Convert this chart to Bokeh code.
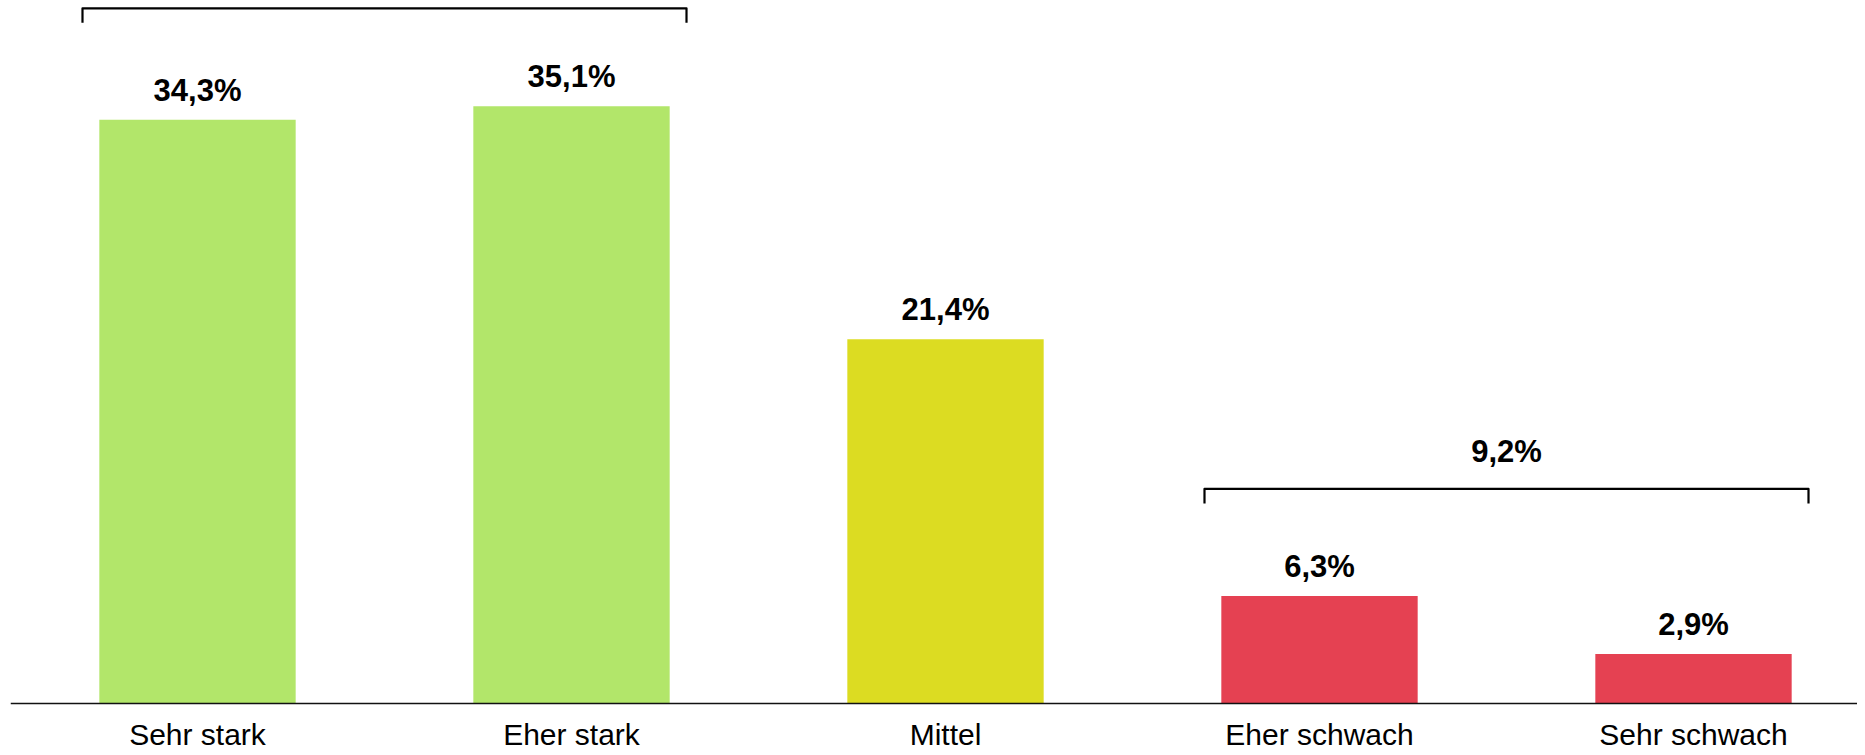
from bokeh.plotting import figure
from bokeh.models import Range1d, FixedTicker, ColumnDataSource
from bokeh.embed import file_html
from bokeh.resources import INLINE
from bokeh.core.properties import value

# ---- data ----
categories = ["Sehr stark", "Eher stark", "Mittel", "Eher schwach", "Sehr schwach"]
values = [34.3, 35.1, 21.4, 6.3, 2.9]
value_labels = ["34,3%", "35,1%", "21,4%", "6,3%", "2,9%"]
colors = ["#B2E66A", "#B2E66A", "#DCDC22", "#E54152", "#E54152"]
group_members = [[0, 1], [3, 4]]
group_labels = ["", "9,2%"]

# ---- style ----
FONT = "Liberation Sans"
BAR_W = 0.525
BR_PAD = 0.045
BR_OFFSET = [5.75, 6.3]
BR_TICK = 0.85
BR_LABEL_GAP = 2.2

xs = list(range(len(categories)))

p = figure(width=1857, height=755, output_backend="svg", toolbar_location=None,
           x_range=Range1d(-0.5, 4.4385), y_range=Range1d(-3.07, 41.31),
           min_border_left=10, min_border_right=0, min_border_top=0, min_border_bottom=0)
p.outline_line_color = None
p.grid.grid_line_color = None
p.yaxis.visible = False
p.background_fill_color = "white"

src = ColumnDataSource(dict(x=xs, top=values, color=colors, label=value_labels))
p.vbar(x="x", top="top", width=BAR_W, color="color", source=src, line_color=None)
p.text(x="x", y="top", text="label", source=src, text_align="center", text_baseline="bottom",
       y_offset=-12, text_font=value(FONT), text_font_style="bold", text_font_size="31px",
       text_color="black")

# brackets
bx, by, lx, ly, lt = [], [], [], [], []
for gi, members in enumerate(group_members):
    left = xs[members[0]] - BAR_W / 2 - BR_PAD
    right = xs[members[-1]] + BAR_W / 2 + BR_PAD
    top = max(values[m] for m in members) + BR_OFFSET[gi]
    bx.append([left, left, right, right])
    by.append([top - BR_TICK, top, top, top - BR_TICK])
    if group_labels[gi]:
        lx.append((left + right) / 2)
        ly.append(top + BR_LABEL_GAP)
        lt.append(group_labels[gi])
p.multi_line(xs=bx, ys=by, line_color="black", line_width=2.2, line_join="round")
p.text(x=lx, y=ly, text=lt, text_align="center", text_baseline="middle",
       text_font=value(FONT), text_font_style="bold", text_font_size="31px", text_color="black")

# category labels just below the baseline
p.text(x=xs, y=[0] * len(xs), text=categories, text_align="center", text_baseline="top",
       y_offset=15, text_font=value(FONT), text_font_size="30px", text_color="black")

ax = p.xaxis[0]
ax.fixed_location = 0
ax.ticker = FixedTicker(ticks=xs)
ax.major_label_text_font_size = "0px"
ax.major_label_text_alpha = 0
ax.major_tick_line_color = None
ax.minor_tick_line_color = None
ax.axis_line_color = "#111111"
ax.axis_line_width = 1.3

open("out.html", "w").write(file_html(p, INLINE))
